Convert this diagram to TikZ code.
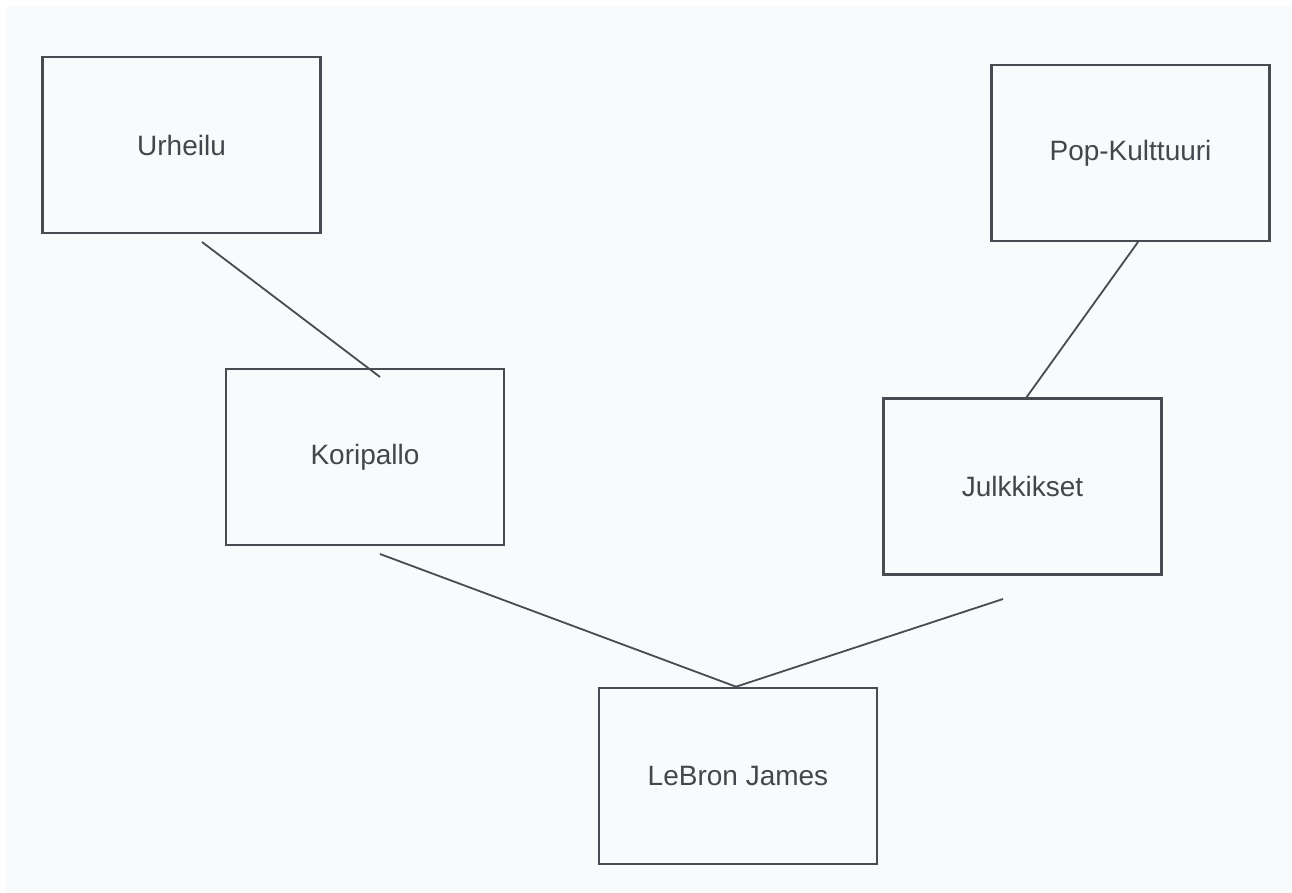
\documentclass[tikz,border=0pt]{standalone}
\usepackage{fontspec}
\setmainfont{Liberation Sans}
\usetikzlibrary{calc}
\definecolor{paper}{HTML}{F9FAFB}
\definecolor{ink}{HTML}{474C52}
\definecolor{textink}{HTML}{42474D}
\begin{document}
\begin{tikzpicture}[x=1pt,y=-1pt,
  topic/.style={draw=ink, line width=2.6pt, fill=paper, rectangle,
    minimum width=278pt, minimum height=176pt, inner sep=0pt,
    text=textink, font=\fontsize{28}{33}\selectfont},
  link/.style={draw=ink, line width=1.8pt}]
  % canvas
  \fill[white] (0,0) rectangle (1292,893);
  \fill[paper] (6,6) rectangle (1292,893);
  \useasboundingbox (0,0) rectangle (1292,893);

  % boxes
  \node[topic] (urheilu)  at (181.5,145) {Urheilu};
  \node[topic] (koripallo) at (365,457) {Koripallo};
  \node[topic] (pop)      at (1130.5,153) {Pop-Kulttuuri};
  \node[topic] (julkkis)  at (1022.5,486.5) {Julkkikset};
  \node[topic] (lebron)   at (738,776) {LeBron James};

  % free connector ends
  \coordinate (u1) at (202,242);
  \coordinate (k1) at (380,377);
  \coordinate (k2) at (380,554);
  \coordinate (p1) at (1138,242);
  \coordinate (j1) at (1026,398);
  \coordinate (j2) at (1003,599);
  \coordinate (l1) at ($(lebron.north)+(-2,0)$);

  % connectors
  \draw[link] (u1) -- (k1);
  \draw[link] (p1) -- (j1);
  \draw[link] (k2) -- (l1);
  \draw[link] (j2) -- (l1);
\end{tikzpicture}
\end{document}
